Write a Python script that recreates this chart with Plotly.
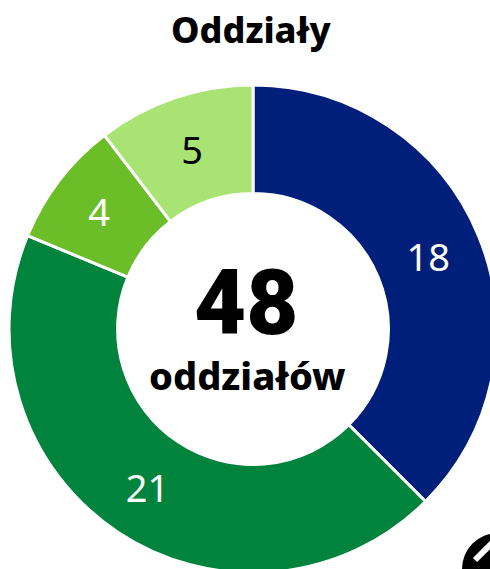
import plotly.graph_objects as go

categories = ["A", "B", "C", "D"]
values = [18, 21, 4, 5]
colors = ["#001F7A", "#00843D", "#6CBE28", "#A8E374"]
text_colors = ["#FFFFFF", "#FFFFFF", "#FFFFFF", "#000000"]
title_text = "Oddziały"
total_text = "48"
unit_text = "oddziałów"

W, H = 498, 574
L, T, D = 9, 85, 488

def px(x):
    return (x - L) / D

def py(y):
    return 1 - (y - T) / D

fig = go.Figure(go.Pie(
    labels=categories, values=values, hole=0.555, sort=False, direction="clockwise",
    rotation=0, marker=dict(colors=colors, line=dict(color="#FFFFFF", width=3)),
    textinfo="value", textposition="inside", insidetextorientation="horizontal",
    textfont=dict(family="Noto Sans", size=38, color=text_colors),
    hoverinfo="label+value", showlegend=False,
    domain=dict(x=[0, 1], y=[0, 1]),
))

fig.update_layout(
    width=W, height=H, margin=dict(l=L, r=W - L - D, t=T, b=H - T - D),
    paper_bgcolor="#FFFFFF", showlegend=False,
    annotations=[
        dict(text=title_text, xref="paper", yref="paper", x=px(251), y=py(29), showarrow=False,
             xanchor="center", yanchor="middle", font=dict(family="Noto Sans", size=36, color="#000", weight=800)),
        dict(text=total_text, xref="paper", yref="paper", x=px(245.5), y=py(303.5), showarrow=False,
             xanchor="center", yanchor="middle", font=dict(family="Roboto", size=90, color="#000", weight=900)),
        dict(text=unit_text, xref="paper", yref="paper", x=px(247), y=py(375), showarrow=False,
             xanchor="center", yanchor="middle", font=dict(family="Noto Sans", size=38, color="#000", weight=800)),
    ],
    shapes=[
        dict(type="circle", xref="paper", yref="paper", x0=px(462), x1=px(534), y0=py(533), y1=py(605),
             fillcolor="#000000", line=dict(width=0), layer="above"),
        dict(type="line", xref="paper", yref="paper", x0=px(475), y0=py(560), x1=px(492), y1=py(543),
             line=dict(color="#FFFFFF", width=6), layer="above"),
    ],
)

fig.write_html("out.html", config={"displayModeBar": False},
               post_script="document.documentElement.style.overflow='hidden';document.body.style.overflow='hidden';document.body.style.margin='0';")
